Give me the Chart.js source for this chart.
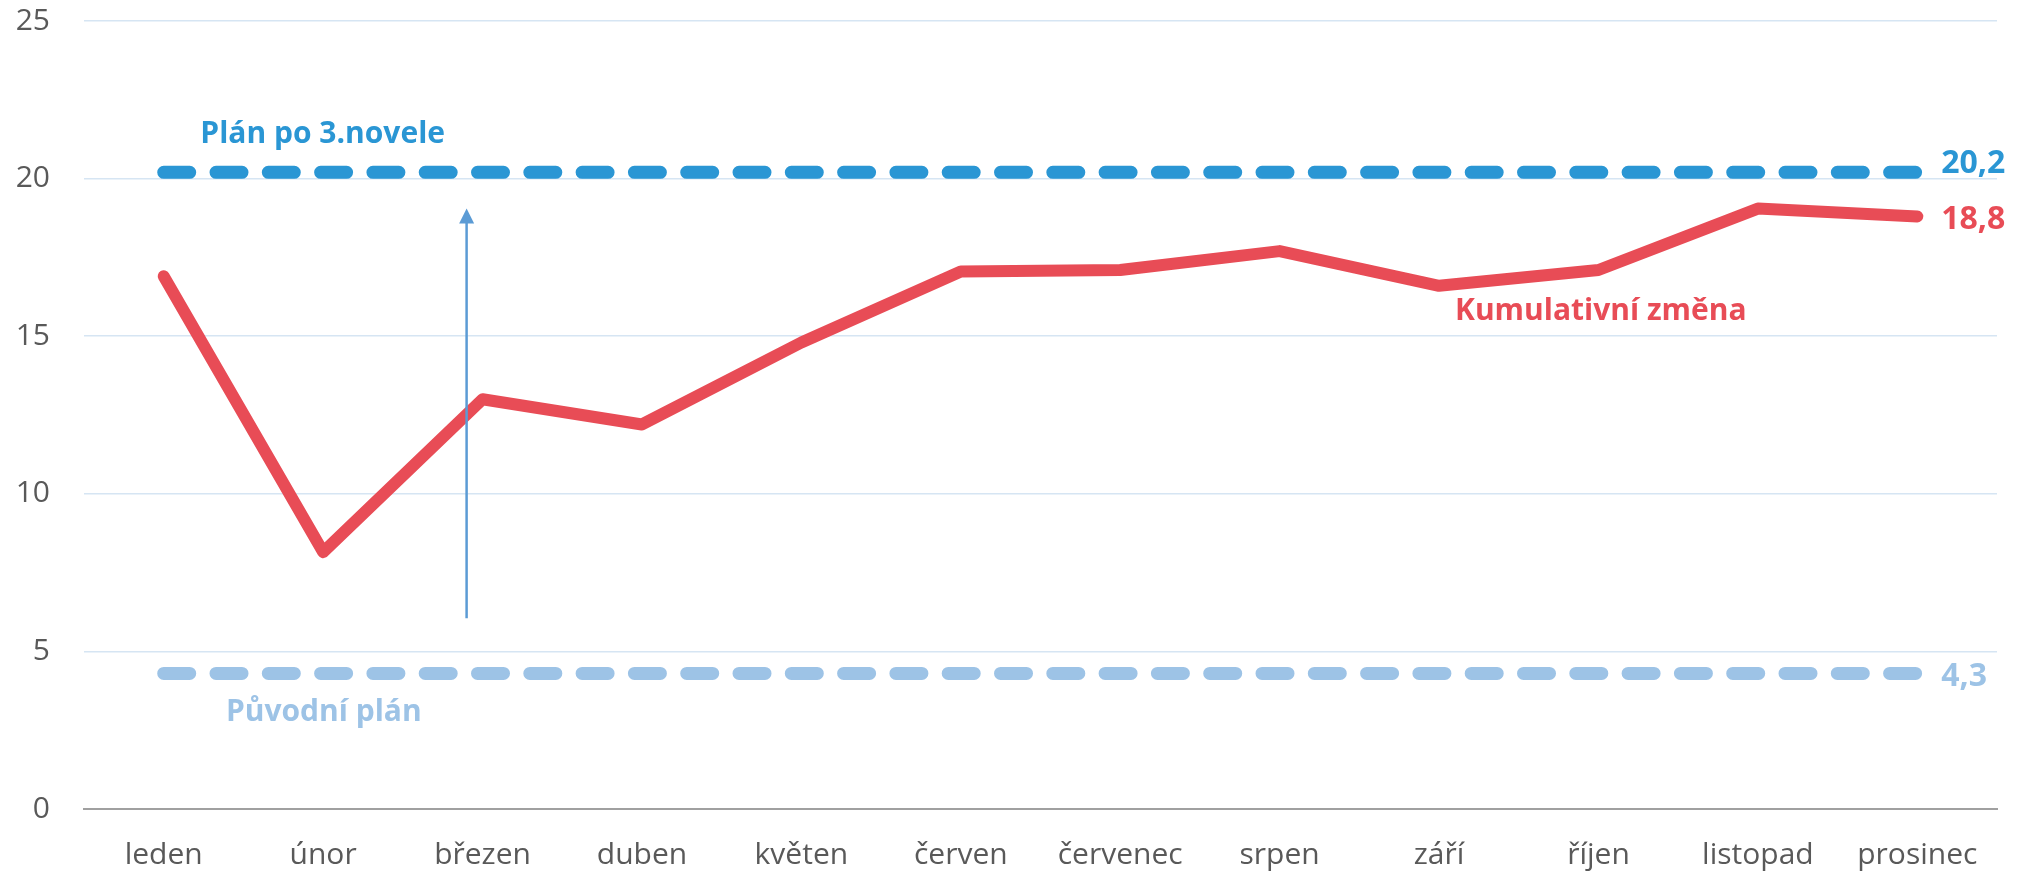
<!DOCTYPE html>
<html>
<head>
<meta charset="utf-8">
<script src="https://cdn.jsdelivr.net/npm/chart.js@4/dist/chart.umd.min.js"></script>
<style>
  html, body { margin: 0; padding: 0; background: #fff; }
  #wrap { width: 2023px; height: 875px; }
</style>
</head>
<body>
<div id="wrap"><canvas id="chart"></canvas></div>
<script>
// měsíce a hodnoty
const months = ['leden', 'únor', 'březen', 'duben', 'květen', 'červen', 'červenec', 'srpen', 'září', 'říjen', 'listopad', 'prosinec'];
const kumulativni = [16.9, 8.15, 13.0, 12.2, 14.8, 17.05, 17.1, 17.7, 16.6, 17.1, 19.05, 18.8];
const planNovela = [20.2, 20.2, 20.2, 20.2, 20.2, 20.2, 20.2, 20.2, 20.2, 20.2, 20.2, 20.2];
const planPuvodni = [4.3, 4.3, 4.3, 4.3, 4.3, 4.3, 4.3, 4.3, 4.3, 4.3, 4.3, 4.3];
const yTicks = [0, 5, 10, 15, 20, 25];

const RED = '#e84c56';
const BLUE = '#2a96d4';
const LIGHT = '#9dc3e6';
const FONT = '"Open Sans", "Noto Sans", sans-serif';

// popisky a šipka kreslené přes škály grafu
const labelsPlugin = {
    id: 'labelsPlugin',
    afterDatasetsDraw(chart) {
        const { ctx, scales: { x, y } } = chart;
        ctx.save();

        // šipka
        const ax = x.getPixelForValue(1.9);
        const ay1 = y.getPixelForValue(6.05);
        const ay2 = y.getPixelForValue(19.05);
        ctx.strokeStyle = '#5b9bd5';
        ctx.fillStyle = '#5b9bd5';
        ctx.lineWidth = 2.5;
        ctx.beginPath();
        ctx.moveTo(ax, ay1);
        ctx.lineTo(ax, ay2 + 12);
        ctx.stroke();
        ctx.beginPath();
        ctx.moveTo(ax, ay2);
        ctx.lineTo(ax - 7.5, ay2 + 15);
        ctx.lineTo(ax + 7.5, ay2 + 15);
        ctx.closePath();
        ctx.fill();

        // texty
        ctx.textBaseline = 'middle';
        ctx.textAlign = 'left';
        ctx.font = 'bold 30px ' + FONT;
        ctx.fillStyle = BLUE;
        ctx.fillText('Plán po 3.novele', x.getPixelForValue(0.23), y.getPixelForValue(21.4));
        ctx.fillStyle = LIGHT;
        ctx.fillText('Původní plán', x.getPixelForValue(0.39), y.getPixelForValue(3.05));
        ctx.fillStyle = RED;
        ctx.fillText('Kumulativní změna', x.getPixelForValue(8.1), y.getPixelForValue(15.8));

        const ex = x.getPixelForValue(11.15);
        ctx.font = 'bold 32px ' + FONT;
        ctx.fillStyle = BLUE;
        ctx.fillText('20,2', ex, y.getPixelForValue(planNovela[11]) - 8);
        ctx.fillStyle = RED;
        ctx.fillText('18,8', ex, y.getPixelForValue(kumulativni[11]) + 3);
        ctx.fillStyle = LIGHT;
        ctx.fillText('4,3', ex, y.getPixelForValue(planPuvodni[11]) + 3);
        ctx.restore();
    }
};

new Chart(document.getElementById('chart'), {
    type: 'line',
    data: {
        labels: months,
        datasets: [
            { label: 'Plán po 3.novele', data: planNovela, borderColor: BLUE, borderWidth: 13, borderDash: [26, 26.3], borderCapStyle: 'round', pointRadius: 0, order: 2 },
            { label: 'Původní plán', data: planPuvodni, borderColor: LIGHT, borderWidth: 13, borderDash: [26, 26.3], borderCapStyle: 'round', pointRadius: 0, order: 3 },
            { label: 'Kumulativní změna', data: kumulativni, borderColor: RED, borderWidth: 12, borderCapStyle: 'round', borderJoinStyle: 'round', tension: 0, pointRadius: 0, order: 1 }
        ]
    },
    options: {
        responsive: true,
        maintainAspectRatio: false,
        animation: false,
        layout: { autoPadding: false, padding: { left: 0, right: 26, top: 21, bottom: 0 } },
        plugins: { legend: { display: false }, tooltip: { enabled: false } },
        scales: {
            x: {
                offset: true,
                grid: { display: false, drawTicks: false },
                border: { display: true, color: '#a0a0a0', width: 2 },
                ticks: { color: '#595959', font: { family: FONT, size: 30 }, padding: 28, maxRotation: 0, autoSkip: false },
                afterFit: axis => { axis.height = 66; axis.paddingLeft = 0; axis.paddingRight = 0; }
            },
            y: {
                min: 0,
                max: 25,
                afterBuildTicks: axis => { axis.ticks = yTicks.map(v => ({ value: v })); },
                grid: { color: ctx => ctx.tick.value === 0 ? '#a0a0a0' : '#d6e5f3', lineWidth: 1.5, drawTicks: false },
                border: { display: false },
                ticks: { color: '#595959', font: { family: FONT, size: 30 }, padding: 34 },
                afterFit: axis => { axis.width = 84; axis.paddingTop = 0; axis.paddingBottom = 0; }
            }
        }
    },
    plugins: [labelsPlugin]
});
</script>
</body>
</html>
